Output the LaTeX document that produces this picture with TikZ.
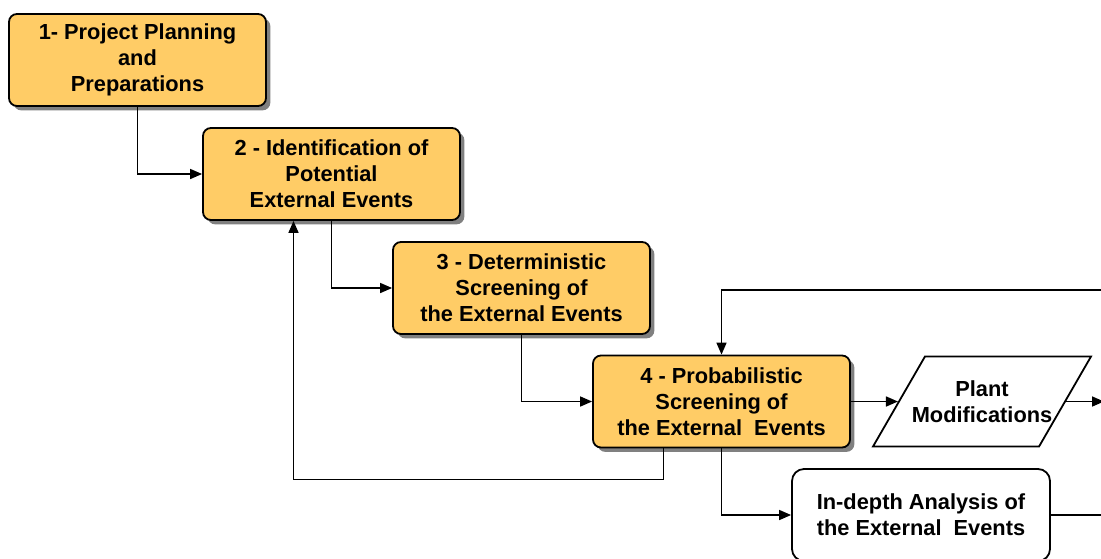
\documentclass[tikz,border=0pt]{standalone}
\usepackage{fontspec}
\setmainfont{Liberation Sans}
\usepackage{xcolor}
\usetikzlibrary{shapes.geometric,arrows.meta,positioning,calc,shadows}

\definecolor{stepfill}{HTML}{FFCC66}
\definecolor{stepshade}{HTML}{808080}

\begin{document}
\begin{tikzpicture}[
  x=0.5pt, y=-0.5pt,
  stepbox/.style={draw, line width=0.9pt, rounded corners=4pt, fill=stepfill, minimum width=128.5pt, minimum height=46pt, align=center, inner sep=0pt, font=\bfseries\fontsize{10.9}{13}\selectfont, drop shadow={shadow xshift=2.2pt, shadow yshift=-2.2pt, fill=stepshade, opacity=1}},
  outbox/.style={draw, line width=0.9pt, rounded corners=6pt, fill=white, minimum width=129pt, minimum height=46pt, align=center, inner sep=0pt, font=\bfseries\fontsize{10.9}{13}\selectfont},
  modbox/.style={draw, line width=0.9pt, trapezium, trapezium left angle=60, trapezium right angle=120, trapezium stretches body, fill=white, minimum width=109pt, inner xsep=-8pt, inner ysep=12pt, align=center, font=\bfseries\fontsize{10.9}{13}\selectfont},
  arr/.style={-{Triangle[length=6pt, width=5pt]}, line width=0.8pt},
  ln/.style={line width=0.8pt}
]
\useasboundingbox (0,0) rectangle (1101,558);

\node[stepbox] (plan) at (137.5,60) {1- Project Planning\\and\\Preparations};
\node[stepbox] (ident) at (331.5,174) {2 - Identification of\\Potential\\External Events};
\node[stepbox] (determ) at (521.5,288) {3 - Deterministic\\Screening of\\the External Events};
\node[stepbox] (prob) at (721.5,401.5) {4 - Probabilistic\\Screening of\\the External~ Events};
\node[modbox] (modif) at (982,401.5) {Plant\\Modifications};
\node[outbox] (depth) at (921,515) {In-depth Analysis of\\the External~ Events};

% free ends at the right edge
\coordinate (topin) at (1101,290);
\coordinate (modout) at (1104,401.5);
\coordinate (depthout) at (1101,515);
% feedback branch
\coordinate (fbout) at ($(prob.south)+(-58,0)$);
\coordinate (fbin) at ($(ident.south)+(-38,0)$);

\draw[arr] (plan.south) |- (ident.west);
\draw[arr] (ident.south) |- (determ.west);
\draw[arr] (determ.south) |- (prob.west);
\draw[arr] (fbout) -- ++(0,31) -| (fbin);
\draw[arr] (prob.east) -- (modif.left side);
\draw[arr] (modif.right side) -- (modout);
\draw[arr] (topin) -| (prob.north);
\draw[arr] (prob.south) |- (depth.west);
\draw[ln] (depth.east) -- (depthout);

\end{tikzpicture}
\end{document}
